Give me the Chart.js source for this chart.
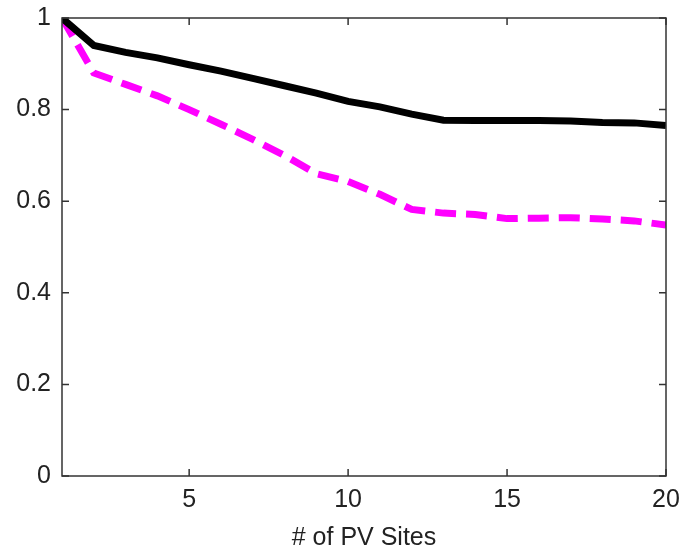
<!DOCTYPE html>
<html>
<head>
<meta charset="utf-8">
<script src="https://cdn.jsdelivr.net/npm/chart.js@4.4.0/dist/chart.umd.min.js"></script>
<style>
  html, body { margin: 0; padding: 0; background: #fff; }
  #wrap { width: 682px; height: 549px; }
</style>
</head>
<body>
<div id="wrap"><canvas id="c"></canvas></div>
<script>
// ---------- data ----------
const sites = [1, 2, 3, 4, 5, 6, 7, 8, 9, 10, 11, 12, 13, 14, 15, 16, 17, 18, 19, 20];
const blackSeries = [1.0, 0.94, 0.925, 0.913, 0.898, 0.884, 0.868, 0.852, 0.836, 0.818,
                     0.806, 0.79, 0.777, 0.776, 0.776, 0.776, 0.775, 0.772, 0.771, 0.765];
const magentaSeries = [1.0, 0.88, 0.855, 0.83, 0.8, 0.768, 0.735, 0.70, 0.66, 0.643,
                       0.615, 0.582, 0.574, 0.571, 0.562, 0.563, 0.564, 0.561, 0.557, 0.548];
const xTicks = [5, 10, 15, 20];
const yTicks = [0, 0.2, 0.4, 0.6, 0.8, 1];
const xTitle = '# of PV Sites';

const FONT = "'Liberation Sans', Arial, sans-serif";
const ink = '#222';

// box + inward ticks (matlab style)
const boxTicks = {
  id: 'boxTicks',
  afterDatasetsDraw(chart) {
    const { ctx, chartArea: a, scales: { x, y } } = chart;
    const len = 7;
    ctx.save();
    ctx.strokeStyle = '#333';
    ctx.lineWidth = 1.5;
    ctx.strokeRect(a.left, a.top, a.right - a.left, a.bottom - a.top);
    ctx.beginPath();
    xTicks.forEach(v => {
      const px = x.getPixelForValue(v);
      ctx.moveTo(px, a.bottom); ctx.lineTo(px, a.bottom - len);
      ctx.moveTo(px, a.top); ctx.lineTo(px, a.top + len);
    });
    yTicks.forEach(v => {
      const py = y.getPixelForValue(v);
      ctx.moveTo(a.left, py); ctx.lineTo(a.left + len, py);
      ctx.moveTo(a.right, py); ctx.lineTo(a.right - len, py);
    });
    ctx.stroke();
    ctx.restore();
  }
};

// no label overhang: chart area is set by layout padding only
const noOverhang = s => { s.paddingTop = s.paddingBottom = s.paddingLeft = s.paddingRight = 0; };

new Chart(document.getElementById('c'), {
  type: 'line',
  data: {
    datasets: [
      {
        data: sites.map((s, i) => ({ x: s, y: blackSeries[i] })),
        borderColor: '#000',
        borderWidth: 7,
        pointRadius: 0,
        tension: 0
      },
      {
        data: sites.map((s, i) => ({ x: s, y: magentaSeries[i] })),
        borderColor: '#ff00ff',
        borderWidth: 7,
        borderDash: [21, 10],
        pointRadius: 0,
        tension: 0
      }
    ]
  },
  options: {
    responsive: true, maintainAspectRatio: false,
    animation: false,
    layout: { padding: { top: 18, right: 16, left: 0, bottom: 0 } },
    plugins: { legend: { display: false }, tooltip: { enabled: false } },
    scales: {
      x: {
        type: 'linear', min: 1, max: 20,
        afterBuildTicks: s => { s.ticks = xTicks.map(v => ({ value: v })); },
        afterFit: s => { s.height = 73; noOverhang(s); },
        grid: { display: false, drawTicks: false },
        border: { display: false },
        ticks: { color: ink, padding: 9, maxRotation: 0, font: { family: FONT, size: 25 } },
        title: { display: true, text: xTitle, color: ink, padding: { top: 0, bottom: -4 },
                 font: { family: FONT, size: 25 } }
      },
      y: {
        min: 0, max: 1,
        afterBuildTicks: s => { s.ticks = yTicks.map(v => ({ value: v })); },
        afterFit: s => { s.width = 62; noOverhang(s); },
        grid: { display: false, drawTicks: false },
        border: { display: false },
        ticks: { color: ink, padding: 11, font: { family: FONT, size: 25 },
                 callback: v => String(+v.toFixed(1)) }
      }
    }
  },
  plugins: [boxTicks]
});
</script>
</body>
</html>
